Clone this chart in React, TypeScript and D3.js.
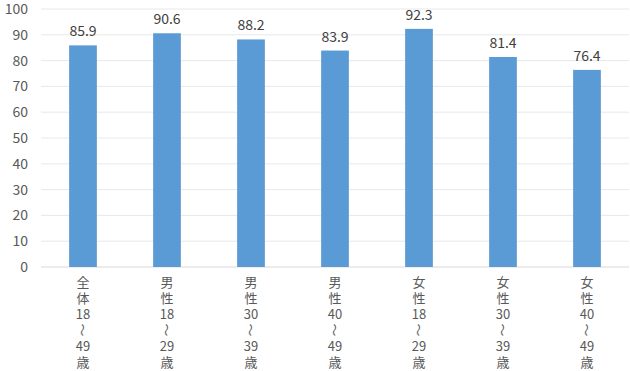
import * as d3 from 'd3';

const categories = ['全体18～49歳', '男性18～29歳', '男性30～39歳', '男性40～49歳', '女性18～29歳', '女性30～39歳', '女性40～49歳'];
const labelLines = [
    ['全', '体', '18', '～', '49', '歳'],
    ['男', '性', '18', '～', '29', '歳'],
    ['男', '性', '30', '～', '39', '歳'],
    ['男', '性', '40', '～', '49', '歳'],
    ['女', '性', '18', '～', '29', '歳'],
    ['女', '性', '30', '～', '39', '歳'],
    ['女', '性', '40', '～', '49', '歳'],
];
const values = [85.9, 90.6, 88.2, 83.9, 92.3, 81.4, 76.4];
const yTicks = [0, 10, 20, 30, 40, 50, 60, 70, 80, 90, 100];

const width = 630;
const height = 371;
const margin = { left: 41, right: 1, top: 9, bottom: 104 };
const font = '"Noto Sans CJK JP", "Noto Sans", sans-serif';
const textColor = '#595959';

export default function App() {
    const x = d3
        .scaleBand<string>()
        .domain(categories)
        .range([margin.left, width - margin.right])
        .paddingInner(0.67)
        .paddingOuter(0.335);
    const y = d3
        .scaleLinear()
        .domain([0, 100])
        .range([height - margin.bottom, margin.top]);

    return (
        <svg
            width={width}
            height={height}
            style={{ position: 'absolute', left: 0, top: 0, background: '#fff' }}
            fontFamily={font}
        >
            {yTicks.map((t) => (
                <g key={t}>
                    <line
                        x1={margin.left}
                        x2={width - margin.right}
                        y1={y(t)}
                        y2={y(t)}
                        stroke={t === 0 ? '#d9d9d9' : '#e8e8e8'}
                        strokeWidth={1}
                    />
                    <text x={28} y={y(t)} dy="0.35em" textAnchor="end" fontSize={14} fill={textColor}>
                        {t}
                    </text>
                </g>
            ))}
            {categories.map((c, i) => {
                const bx = x(c)!;
                const cx = bx + x.bandwidth() / 2;
                return (
                    <g key={c}>
                        <rect
                            x={bx}
                            y={y(values[i])}
                            width={x.bandwidth()}
                            height={y(0) - y(values[i])}
                            fill="#5b9bd5"
                        />
                        <text
                            x={cx}
                            y={y(values[i]) - 9}
                            textAnchor="middle"
                            fontSize={14}
                            fill="#404040"
                        >
                            {values[i]}
                        </text>
                        {labelLines[i].map((s, j) => {
                            const ly = 282 + j * 16;
                            return s === '～' ? (
                                <text
                                    key={j}
                                    x={0}
                                    y={0}
                                    textAnchor="middle"
                                    dy="0.35em"
                                    fontSize={13}
                                    fill={textColor}
                                    transform={`translate(${cx},${ly}) rotate(90)`}
                                >
                                    {s}
                                </text>
                            ) : (
                                <text
                                    key={j}
                                    x={cx}
                                    y={ly}
                                    dy="0.35em"
                                    textAnchor="middle"
                                    fontSize={13}
                                    fill={textColor}
                                >
                                    {s}
                                </text>
                            );
                        })}
                    </g>
                );
            })}
        </svg>
    );
}
